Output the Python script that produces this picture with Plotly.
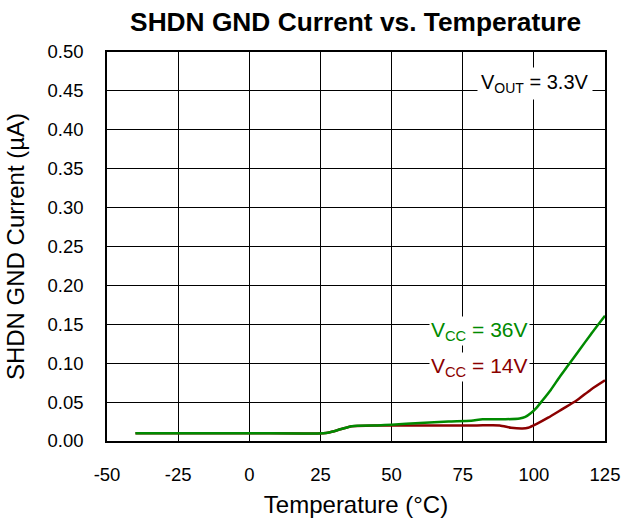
import plotly.graph_objects as go

temp_36 = [-40, 0, 26, 28, 32, 36, 45, 50, 60, 70, 78, 82, 90, 95, 97, 99, 101, 103, 106, 109, 112, 116, 120, 125]
cur_36 = [0.010, 0.010, 0.010, 0.011, 0.015, 0.019, 0.020, 0.021, 0.023, 0.025, 0.026, 0.028, 0.028, 0.029, 0.031, 0.036, 0.043, 0.052, 0.066, 0.082, 0.097, 0.117, 0.137, 0.161]

temp_14 = [-40, 0, 26, 28, 32, 36, 45, 50, 60, 70, 80, 88, 92, 96, 98, 101, 105, 110, 115, 120, 125]
cur_14 = [0.010, 0.010, 0.010, 0.011, 0.015, 0.019, 0.020, 0.020, 0.020, 0.020, 0.020, 0.020, 0.017, 0.016, 0.017, 0.022, 0.030, 0.041, 0.052, 0.066, 0.078]

x_ticks = [-50, -25, 0, 25, 50, 75, 100, 125]
y_ticks = [0.0, 0.05, 0.10, 0.15, 0.20, 0.25, 0.30, 0.35, 0.40, 0.45, 0.50]

GREEN = "#008a00"
RED = "#8b0000"

fig = go.Figure()
fig.add_trace(go.Scatter(x=temp_14, y=cur_14, mode="lines", line=dict(color=RED, width=2.5, shape="spline", smoothing=0.6)))
fig.add_trace(go.Scatter(x=temp_36, y=cur_36, mode="lines", line=dict(color=GREEN, width=2.5, shape="spline", smoothing=0.6)))

font = "Liberation Sans, Arial, sans-serif"
fig.update_layout(
    width=625, height=522,
    margin=dict(l=107, r=20, t=52, b=81),
    paper_bgcolor="white", plot_bgcolor="white",
    showlegend=False,
    font=dict(family=font, color="black", size=18),
    title=dict(text="<b>SHDN GND Current vs. Temperature</b>", x=0.569, xanchor="center", y=0.958, yanchor="middle",
               font=dict(size=26.3, family=font, color="black")),
)
fig.update_xaxes(range=[-50, 125], tickvals=x_ticks, ticktext=[str(v) for v in x_ticks],
                 showgrid=True, gridcolor="black", gridwidth=1,
                 showline=True, linecolor="black", linewidth=1.5, mirror=True,
                 zeroline=False, ticks="", ticklen=0, automargin=False,
                 ticklabelstandoff=16,
                 title=dict(text="Temperature (°C)", font=dict(size=24), standoff=12),
                 tickfont=dict(size=18.5))
fig.update_yaxes(range=[0, 0.5], tickvals=y_ticks, ticktext=[f"{v:.2f}" for v in y_ticks],
                 showgrid=True, gridcolor="black", gridwidth=1,
                 showline=True, linecolor="black", linewidth=1.5, mirror=True,
                 zeroline=False, ticks="", ticklen=0, automargin=False,
                 ticklabelstandoff=18,
                 title=dict(text="SHDN GND Current (µA)", font=dict(size=24), standoff=16),
                 tickfont=dict(size=18.5))

fig.add_annotation(x=100.5, y=0.459, text="V<sub>OUT</sub> = 3.3V", showarrow=False,
                   bgcolor="white", font=dict(size=20, color="black"), borderpad=3)
fig.add_annotation(x=81, y=0.142, text="V<sub>CC</sub> = 36V", showarrow=False,
                   bgcolor="white", font=dict(size=21, color=GREEN), borderpad=1)
fig.add_annotation(x=81, y=0.095, text="V<sub>CC</sub> = 14V", showarrow=False,
                   bgcolor="white", font=dict(size=21, color=RED), borderpad=1)

fig.write_html("out.html", config={"displayModeBar": False},
               post_script="document.body.style.margin='0';document.body.style.overflow='hidden';")
